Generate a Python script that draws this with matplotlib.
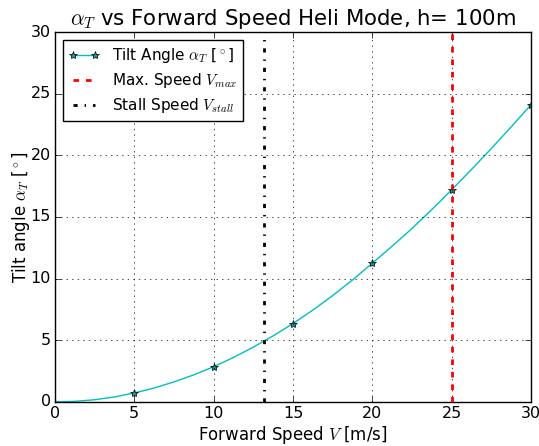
import matplotlib
matplotlib.use('Agg')
import matplotlib.pyplot as plt
import numpy as np

plt.style.use('classic')

# forward speed [m/s] and tilt angle [deg]
speed = [0, 1.25, 2.5, 3.75, 5, 6.25, 7.5, 8.75, 10, 11.25, 12.5, 13.75, 15,
         16.25, 17.5, 18.75, 20, 21.25, 22.5, 23.75, 25, 26.25, 27.5, 28.75, 30]
tilt = [0, 0.04, 0.17, 0.40, 0.72, 1.12, 1.62, 2.19, 2.85, 3.60, 4.44, 5.35, 6.35,
        7.44, 8.62, 9.88, 11.25, 12.63, 14.06, 15.6, 17.2, 18.85, 20.55, 22.3, 24.1]
marker_speeds = [5, 10, 15, 20, 25, 30]
v_stall = 13.2
v_max = 25

fig = plt.figure(figsize=(5.39, 4.46), dpi=100)
ax = fig.add_axes([0.102, 0.099, 0.883, 0.829])

mark_idx = [speed.index(v) for v in marker_speeds]
ax.plot(speed, tilt, 'c-*', markevery=mark_idx, markersize=6, lw=1,
        markerfacecolor='#1a9a9a', label=r'Tilt Angle $\alpha_T$ [$^\circ$]')
ax.axvline(v_max, color='r', lw=2, dashes=(4, 5), zorder=3, label=r'Max. Speed $V_{max}$')
ax.axvline(v_stall, color='k', ls='-.', lw=2, zorder=3, label=r'Stall Speed $V_{stall}$')

ax.set_xlim(0, 30)
ax.set_ylim(0, 30)
ax.grid(True)
ax.tick_params(labelsize=11.5, pad=3)
ax.set_xlabel(r'Forward Speed $V$ [m/s]', labelpad=2)
ax.set_ylabel(r'Tilt angle $\alpha_T$ [$^\circ$]', labelpad=-1)
ax.set_title(r'$\alpha_T$ vs Forward Speed Heli Mode, h= 100m', fontsize=15.3)
ax.legend(loc='upper left', fontsize=11, labelspacing=0.4)

fig.savefig('out.png', dpi=100)
